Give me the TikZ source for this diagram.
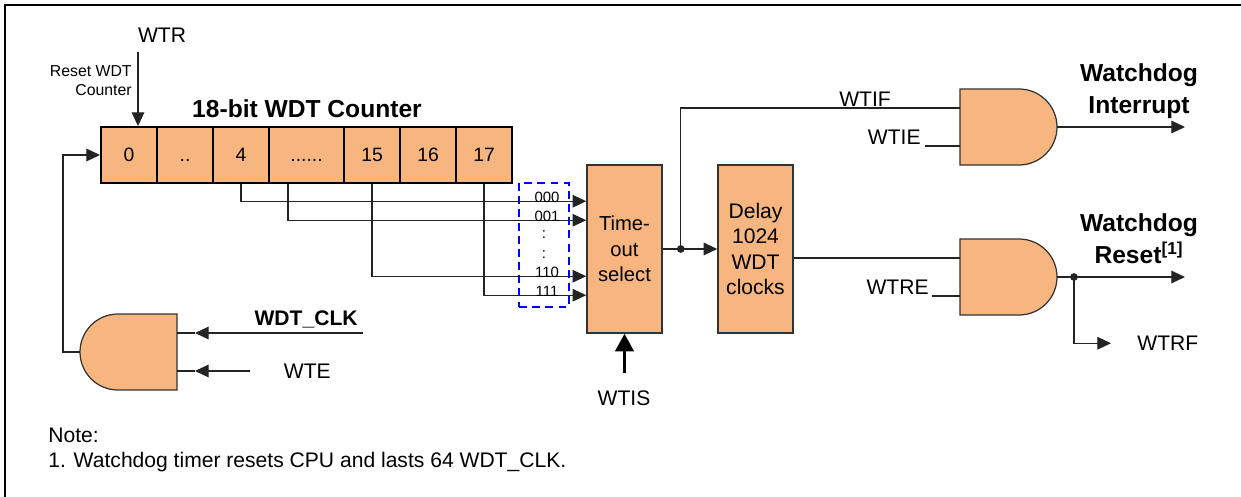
\documentclass[tikz,border=0pt]{standalone}
\usepackage{fontspec}
\setmainfont{Liberation Sans}
\usetikzlibrary{positioning,calc,arrows.meta}
\definecolor{WdtOrange}{RGB}{247,181,127}
\definecolor{WireGray}{RGB}{35,35,35}

\begin{document}
\begin{tikzpicture}[
    x=0.02cm,
    y=-0.02cm,
    >={Triangle[length=7.8pt,width=7.2pt]},
    cell/.style={
        draw,
        line width=1.1pt,
        fill=WdtOrange,
        minimum width=1.12cm,
        minimum height=1.12cm,
        inner sep=0pt,
        text height=7.9pt,
        text depth=0pt,
        font=\fontsize{11}{13}\selectfont
    },
    box/.style={
        draw=black!80,
        line width=0.9pt,
        fill=WdtOrange,
        align=center,
        minimum width=1.5cm,
        minimum height=3.36cm,
        inner sep=0pt
    },
    gate/.style={draw=black!80, line width=0.7pt, fill=WdtOrange},
    wire/.style={draw=WireGray, line width=0.65pt},
    bigarrow/.style={-{Triangle[length=10pt,width=10.5pt]}, line width=1.7pt},
    codebox/.style={
        draw=blue,
        dash pattern=on 4.5pt off 3pt,
        line width=1.1pt,
        minimum width=1cm,
        minimum height=2.48cm
    },
    sig/.style={font=\fontsize{12}{14}\selectfont, inner sep=0pt},
    title/.style={font=\fontsize{14}{18}\selectfont\bfseries, inner sep=0pt},
    small/.style={font=\fontsize{9}{10.8}\selectfont, inner sep=0pt},
    code/.style={font=\fontsize{8.5}{10}\selectfont, inner sep=0pt}
]
\useasboundingbox (0,0) rectangle (1241,497);

% frame
\draw[line width=1.2pt] (5,497) -- (5,5) -- (1241,5);

% counter
\node[cell] (c0) at (129,155) {0};
\node[cell] (c1) at (185,155) {..};
\node[cell] (c4) at (241,155) {4};
\node[cell, minimum width=1.5cm] (cdots) at (306.5,155) {......};
\node[cell] (c15) at (372,155) {15};
\node[cell] (c16) at (428,155) {16};
\node[cell] (c17) at (484,155) {17};
\node[title, anchor=base] (cnttitle) at (307,117) {18-bit WDT Counter};

\node[sig, anchor=base] (wtr) at (162,42.5) {WTR};
\node[small, anchor=north east, align=right] (rstnote) at (132,65.7) {Reset WDT\\Counter};
\coordinate (wtrin) at (138,52);
\draw[wire, ->] (wtrin) -- (wtrin |- c0.north);

% time-out select and delay
\node[box, font=\fontsize{11.5}{14.5}\selectfont] (sel) at (624.5,249) {Time-\\out\\select};
\node[box, font=\fontsize{12}{14.4}\selectfont] (dly) at (755.5,249) {Delay\\1024\\WDT\\clocks};

\coordinate (s000) at ($(sel.north west)+(0,37)$);
\coordinate (s001) at ($(sel.north west)+(0,56)$);
\coordinate (s110) at ($(sel.north west)+(0,112)$);
\coordinate (s111) at ($(sel.north west)+(0,131)$);

\draw[wire, ->] (c4.south) |- (s000);
\draw[wire, ->] ($(cdots.south)+(-18.5,0)$) |- (s001);
\draw[wire, ->] (c15.south) |- (s110);
\draw[wire, ->] (c17.south) |- (s111);

\node[codebox] (codes) at (544,245) {};
\node[code, anchor=base] (k000) at (547,202) {000};
\node[code, anchor=base] (k001) at (547,221) {001};
\node[code] (kd1) at (544,235) {:};
\node[code] (kd2) at (544,255) {:};
\node[code, anchor=base] (k110) at (547,277) {110};
\node[code, anchor=base] (k111) at (547,296.5) {111};

\node[sig, anchor=base] (wtis) at (624,405.5) {WTIS};
\draw[bigarrow] ($(sel.south)+(0,39)$) -- (sel.south);

\coordinate (tap) at ($(sel.east)+(18,0)$);
\draw[wire, ->] (sel.east) -- (dly.west);
\fill[WireGray] (tap) circle (2.2pt);

% interrupt gate
\coordinate (g1) at (960,89);
\draw[gate] (g1) -- ++(59,0) arc[start angle=-90, end angle=90, radius=38] -- ++(-59,0) -- cycle;
\coordinate (g1a) at ($(g1)+(0,19)$);
\coordinate (g1b) at ($(g1)+(0,57)$);
\coordinate (g1y) at ($(g1)+(97,38)$);

\draw[wire] (tap) |- (g1a);
\node[sig, anchor=base] (wtif) at (865,106) {WTIF};
\node[sig, anchor=base east] (wtie) at (921,144.5) {WTIE};
\draw[wire] (g1b) -- ++(-35,0);
\draw[wire, ->] (g1y) -- ++(128,0);
\node[title, anchor=north, align=center] (wdgint) at (1139,63.5) {Watchdog\\Interrupt};

% reset gate
\coordinate (g2) at (960,239);
\draw[gate] (g2) -- ++(59,0) arc[start angle=-90, end angle=90, radius=38] -- ++(-59,0) -- cycle;
\coordinate (g2a) at ($(g2)+(0,19)$);
\coordinate (g2b) at ($(g2)+(0,57)$);
\coordinate (g2y) at ($(g2)+(97,38)$);

\draw[wire] (dly.east |- g2a) -- (g2a);
\node[sig, anchor=base east] (wtre) at (929,294.5) {WTRE};
\draw[wire] (g2b) -- ++(-28,0);
\draw[wire, ->] (g2y) -- ++(128,0);
\node[title, anchor=north, align=center] (wdgrst) at (1139,213.5) {Watchdog\\Reset\textsuperscript{[1]}};

\coordinate (rdot) at ($(g2y)+(17,0)$);
\fill[WireGray] (rdot) circle (2.2pt);
\node[sig, anchor=base west] (wtrf) at (1137,350.5) {WTRF};
\draw[wire, ->] (rdot) |- ($(wtrf.west)+(-26,0)$);

% enable gate
\coordinate (g0) at (177,314);
\draw[gate] (g0) -- ++(-59,0) arc[start angle=-90, end angle=-270, radius=38] -- ++(59,0) -- cycle;
\coordinate (g0a) at ($(g0)+(0,19)$);
\coordinate (g0b) at ($(g0)+(0,57)$);
\coordinate (g0y) at ($(g0)+(-97,38)$);

\node[sig, font=\fontsize{12}{14}\selectfont\bfseries, anchor=base east] (wdtclk) at (358,325.5) {WDT\_CLK};
\node[sig, anchor=base west] (wte) at (283.5,378) {WTE};
\coordinate (clkin) at (363,333);
\coordinate (wtein) at (250,371);
\draw[wire, ->] (clkin) -- ($(g0a)+(18,0)$);
\draw[wire] ($(g0a)+(18,0)$) -- (g0a);
\draw[wire, ->] (wtein) -- ($(g0b)+(18,0)$);
\draw[wire] ($(g0b)+(18,0)$) -- (g0b);
\draw[wire, ->] (g0y) -- ++(-17,0) |- (c0.west);

% note
\node[sig, anchor=north west, align=left, font=\fontsize{12}{14.2}\selectfont] (note) at (48,427.5) {Note:\\1. Watchdog timer resets CPU and lasts 64 WDT\_CLK.};

\end{tikzpicture}
\end{document}
